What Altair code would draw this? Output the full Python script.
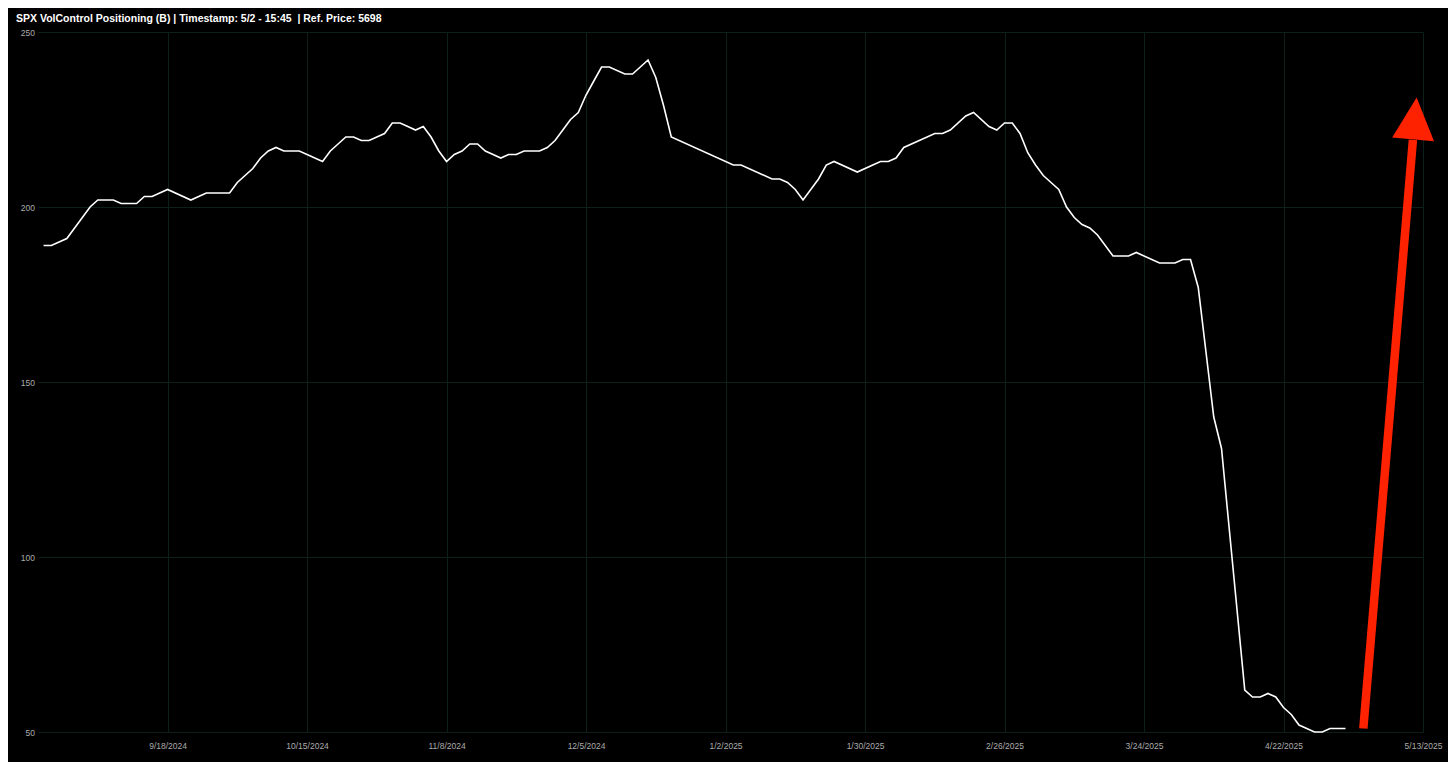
import altair as alt
import pandas as pd

# ---- data (x = trading-day slot index, y = positioning in $B) ----
slots = [0, 1, 3, 6, 7, 9, 10, 12, 13, 14, 16, 19, 21, 24, 25, 27, 28, 29, 30, 31,
         33, 36, 37, 38, 39, 40, 41, 42, 43, 44, 45, 46, 47, 48, 49, 50, 51, 52, 53, 54,
         55, 56, 57, 58, 59, 60, 61, 62, 64, 65, 66, 67, 68, 69, 70, 71, 72, 73, 75, 76,
         78, 79, 80, 81, 89, 90, 94, 95, 96, 97, 98, 100, 101, 102, 105, 107, 108, 109, 110, 111,
         115, 116, 117, 119, 120, 122, 123, 124, 125, 126, 127, 128, 129, 130, 131, 132, 133, 134, 135, 136,
         138, 140, 141, 144, 146, 147, 148, 149, 151, 152, 155, 156, 157, 158, 159, 160, 161, 162, 163, 164,
         165, 166, 168]
values = [189, 189, 191, 200, 202, 202, 201, 201, 203, 203, 205, 202, 204, 204, 207, 211, 214, 216, 217, 216,
          216, 213, 216, 218, 220, 220, 219, 219, 220, 221, 224, 224, 223, 222, 223, 220, 216, 213, 215, 216,
          218, 218, 216, 215, 214, 215, 215, 216, 216, 217, 219, 222, 225, 227, 232, 236, 240, 240, 238, 238,
          242, 237, 229, 220, 212, 212, 208, 208, 207, 205, 202, 208, 212, 213, 210, 212, 213, 213, 214, 217,
          221, 221, 222, 226, 227, 223, 222, 224, 224, 221, 215.5, 212, 209, 207, 205, 200, 197, 195, 194, 192,
          186, 186, 187, 184, 184, 185, 185, 177, 140, 131, 62, 60, 60, 61, 60, 57, 55, 52, 51, 50,
          50, 51, 51]

tick_slots = [16, 34, 52, 70, 88, 106, 124, 142, 160, 178]
tick_labels = ["9/18/2024", "10/15/2024", "11/8/2024", "12/5/2024", "1/2/2025",
               "1/30/2025", "2/26/2025", "3/24/2025", "4/22/2025", "5/13/2025"]
y_ticks = [50, 100, 150, 200, 250]

# red arrow annotation (in data units)
arrow_start = [170.3, 51]
arrow_end = [176.7, 219.2]
arrow_head = [176.95, 225.3]

title_text = "SPX VolControl Positioning (B) | Timestamp: 5/2 - 15:45\u00a0 | Ref. Price: 5698"

df = pd.DataFrame({"slot": slots, "value": values})
shaft_df = pd.DataFrame({"x": [arrow_start[0]], "y": [arrow_start[1]],
                         "x2": [arrow_end[0]], "y2": [arrow_end[1]]})
head_df = pd.DataFrame({"x": [arrow_head[0]], "y": [arrow_head[1]]})

label_expr = " : ".join(
    f"datum.value == {s} ? '{l}'" for s, l in zip(tick_slots, tick_labels)
) + " : ''"

FONT = "Liberation Sans"
GRID = "#0d1f1a"

x_scale = alt.Scale(domain=[-0.72, 178], nice=False, zero=False)
y_scale = alt.Scale(domain=[50, 250], nice=False, zero=False)

x_axis = alt.Axis(values=tick_slots, labelExpr=label_expr, title=None, grid=True,
                  gridColor=GRID, gridWidth=1, domain=False, ticks=False, tickSize=0,
                  labelPadding=9, labelFont=FONT, labelFontSize=8.5, labelColor="#acacac",
                  labelFlush=False, labelOverlap=False)
y_axis = alt.Axis(values=y_ticks, title=None, grid=True, gridColor=GRID, gridWidth=1,
                  domain=False, ticks=False, tickSize=0, labelPadding=3.5, labelFont=FONT,
                  labelFontSize=8.5, labelColor="#acacac")

line = alt.Chart(df).mark_line(color="white", strokeWidth=1.6).encode(
    x=alt.X("slot:Q", scale=x_scale, axis=x_axis),
    y=alt.Y("value:Q", scale=y_scale, axis=y_axis),
)

shaft = alt.Chart(shaft_df).mark_rule(color="#ff2200", strokeWidth=8.5, strokeCap="butt").encode(
    x=alt.X("x:Q", scale=x_scale),
    y=alt.Y("y:Q", scale=y_scale),
    x2="x2:Q",
    y2="y2:Q",
)

head = alt.Chart(head_df).mark_point(
    shape="M0,-1L1,1L-1,1Z", filled=True, color="#ff2200", opacity=1,
    size=1764, angle=4.8, strokeWidth=0,
).encode(
    x=alt.X("x:Q", scale=x_scale),
    y=alt.Y("y:Q", scale=y_scale),
)

chart = alt.layer(line, shaft, head).properties(
    width=1385,
    height=700,
    background="black",
    padding={"left": 30, "top": 24, "right": 25, "bottom": 30},
    autosize=alt.AutoSizeParams(type="none"),
    title=alt.TitleParams(title_text, anchor="start", frame="group", dx=-22, offset=3.5,
                          font=FONT, fontSize=10.5, fontWeight="bold", color="white"),
).configure_view(stroke=None)

chart.save("out.html", embed_options={"renderer": "svg", "actions": False})
